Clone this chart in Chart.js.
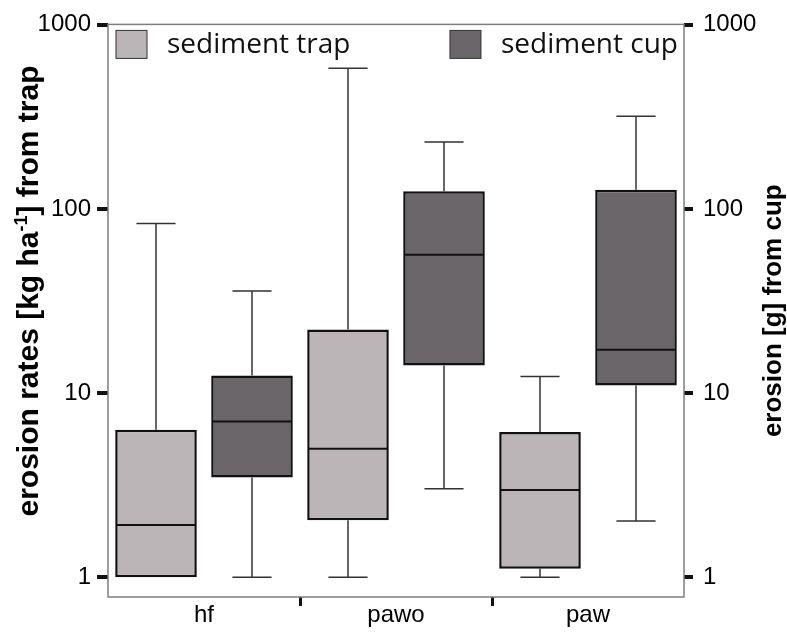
<!DOCTYPE html>
<html>
<head>
<meta charset="utf-8">
<script src="https://cdn.jsdelivr.net/npm/chart.js@4.4.1/dist/chart.umd.min.js"></script>
<style>
  html, body { margin: 0; padding: 0; background: #fff; }
</style>
</head>
<body>
<canvas id="chart" width="787" height="633"></canvas>
<script>
const categories = ['hf', 'pawo', 'paw'];

// sediment trap, erosion rates in kg/ha
const trapMin = [1, 1, 1];
const trapQ1 = [1, 2.04, 1.11];
const trapMedian = [1.92, 4.98, 2.97];
const trapQ3 = [6.32, 22.1, 6.14];
const trapMax = [83.4, 580, 12.3];

// sediment cup, erosion in g
const cupMin = [1, 3.02, 2.02];
const cupQ1 = [3.48, 14.1, 11.0];
const cupMedian = [7.01, 56.3, 17.2];
const cupQ3 = [12.46, 124.6, 127];
const cupMax = [35.8, 231, 319];

const logTicks = [1, 10, 100, 1000];

const trapColor = '#bbb5b8';
const cupColor = '#6b6669';
const labelFont = 'Liberation Sans, Arial, sans-serif';

// whiskers, caps and median lines on top of the floating bars
const boxWhiskers = {
  id: 'boxWhiskers',
  afterDatasetsDraw(chart) {
    const ctx = chart.ctx;
    chart.data.datasets.forEach((ds, di) => {
      const yScale = chart.scales[ds.yAxisID];
      chart.getDatasetMeta(di).data.forEach((bar, i) => {
        const x = bar.x;
        const half = bar.width / 2;
        const cap = bar.width * 0.24;
        const yQ1 = yScale.getPixelForValue(ds.q1[i]);
        const yQ3 = yScale.getPixelForValue(ds.q3[i]);
        const yLo = yScale.getPixelForValue(ds.low[i]);
        const yHi = yScale.getPixelForValue(ds.high[i]);
        const yMed = yScale.getPixelForValue(ds.median[i]);
        ctx.save();
        ctx.strokeStyle = '#333';
        ctx.lineWidth = 1.5;
        ctx.beginPath();
        if (ds.high[i] > ds.q3[i]) {
          ctx.moveTo(x, yQ3); ctx.lineTo(x, yHi);
          ctx.moveTo(x - cap, yHi); ctx.lineTo(x + cap, yHi);
        }
        if (ds.low[i] < ds.q1[i]) {
          ctx.moveTo(x, yQ1); ctx.lineTo(x, yLo);
          ctx.moveTo(x - cap, yLo); ctx.lineTo(x + cap, yLo);
        }
        ctx.stroke();
        ctx.strokeStyle = '#111';
        ctx.lineWidth = 2;
        ctx.beginPath();
        ctx.moveTo(x - half + 1, yMed); ctx.lineTo(x + half - 1, yMed);
        ctx.stroke();
        ctx.restore();
      });
    });
  }
};

// plot frame, legend inside the frame and the two rotated axis titles
const decorations = {
  id: 'decorations',
  afterDraw(chart) {
    const ctx = chart.ctx;
    const { left, right, top, bottom } = chart.chartArea;
    ctx.save();
    ctx.strokeStyle = '#7d7d7d';
    ctx.lineWidth = 1.5;
    ctx.strokeRect(left, top, right - left, bottom - top);

    // legend
    const ds = chart.data.datasets;
    ctx.font = '28px "Open Sans", sans-serif';
    ctx.textBaseline = 'middle';
    ctx.fillStyle = ds[0].backgroundColor;
    ctx.fillRect(left + 8, top + 6, 31, 28);
    ctx.strokeStyle = '#333';
    ctx.lineWidth = 1;
    ctx.strokeRect(left + 8, top + 6, 31, 28);
    ctx.fillStyle = '#111';
    ctx.textAlign = 'left';
    ctx.fillText(ds[0].label, left + 59, top + 21);

    const w = ctx.measureText(ds[1].label).width;
    const tx = right - 6 - w;
    ctx.fillStyle = ds[1].backgroundColor;
    ctx.fillRect(tx - 51, top + 6, 31, 28);
    ctx.strokeRect(tx - 51, top + 6, 31, 28);
    ctx.fillStyle = '#111';
    ctx.fillText(ds[1].label, tx, top + 21);

    // left title with superscript
    ctx.textBaseline = 'alphabetic';
    ctx.fillStyle = '#000';
    const parts = [
      ['erosion rates [kg ha', 30, 0],
      ['-1', 18, -11],
      ['] from trap', 30, 0]
    ];
    let total = 0;
    parts.forEach(p => {
      ctx.font = 'bold ' + p[1] + 'px ' + labelFont;
      total += ctx.measureText(p[0]).width;
    });
    ctx.save();
    ctx.translate(38, 291);
    ctx.rotate(-Math.PI / 2);
    let cx = -total / 2;
    parts.forEach(p => {
      ctx.font = 'bold ' + p[1] + 'px ' + labelFont;
      ctx.textAlign = 'left';
      ctx.fillText(p[0], cx, p[2]);
      cx += ctx.measureText(p[0]).width;
    });
    ctx.restore();

    // right title
    ctx.save();
    ctx.translate(781, (top + bottom) / 2);
    ctx.rotate(-Math.PI / 2);
    ctx.font = 'bold 26px ' + labelFont;
    ctx.textAlign = 'center';
    ctx.fillText('erosion [g] from cup', 0, 0);
    ctx.restore();
    ctx.restore();
  }
};

const yTicks = (side) => ({
  color: '#000',
  font: { family: labelFont, size: 24 },
  padding: side === 'left' ? 6 : 10,
  callback: v => String(v)
});

new Chart(document.getElementById('chart'), {
  type: 'bar',
  data: {
    labels: categories,
    datasets: [{
      label: 'sediment trap',
      data: categories.map((c, i) => [trapQ1[i], trapQ3[i]]),
      q1: trapQ1, q3: trapQ3, low: trapMin, high: trapMax, median: trapMedian,
      backgroundColor: trapColor,
      borderColor: '#111',
      borderWidth: 2.5,
      borderSkipped: false,
      yAxisID: 'y'
    }, {
      label: 'sediment cup',
      data: categories.map((c, i) => [cupQ1[i], cupQ3[i]]),
      q1: cupQ1, q3: cupQ3, low: cupMin, high: cupMax, median: cupMedian,
      backgroundColor: cupColor,
      borderColor: '#111',
      borderWidth: 2.5,
      borderSkipped: false,
      yAxisID: 'y2'
    }]
  },
  options: {
    responsive: false,
    animation: false,
    devicePixelRatio: 1,
    categoryPercentage: 1.0,
    barPercentage: 0.85,
    layout: { padding: { top: 20, left: 0, right: 0, bottom: 0 } },
    plugins: {
      legend: { display: false },
      tooltip: { enabled: false }
    },
    scales: {
      x: {
        offset: true,
        border: { display: false },
        grid: {
          offset: true,
          drawOnChartArea: false,
          tickLength: 9,
          lineWidth: 3,
          color: c => (c.index === 1 || c.index === 2) ? '#111' : 'rgba(0,0,0,0)'
        },
        ticks: { color: '#000', font: { family: labelFont, size: 24 }, padding: -5 },
        afterFit: s => { s.height = 36; }
      },
      y: {
        type: 'logarithmic',
        position: 'left',
        min: 0.78,
        max: 1005,
        afterBuildTicks: s => { s.ticks = logTicks.map(v => ({ value: v })); },
        border: { display: false },
        grid: { drawOnChartArea: false, tickLength: 11, lineWidth: 4, color: '#111' },
        ticks: yTicks('left'),
        afterFit: s => { s.width = 108; }
      },
      y2: {
        type: 'logarithmic',
        position: 'right',
        min: 0.78,
        max: 1005,
        afterBuildTicks: s => { s.ticks = logTicks.map(v => ({ value: v })); },
        border: { display: false },
        grid: { drawOnChartArea: false, tickLength: 9, lineWidth: 4, color: '#111' },
        ticks: yTicks('right'),
        afterFit: s => { s.width = 103; }
      }
    }
  },
  plugins: [boxWhiskers, decorations]
});
</script>
</body>
</html>
